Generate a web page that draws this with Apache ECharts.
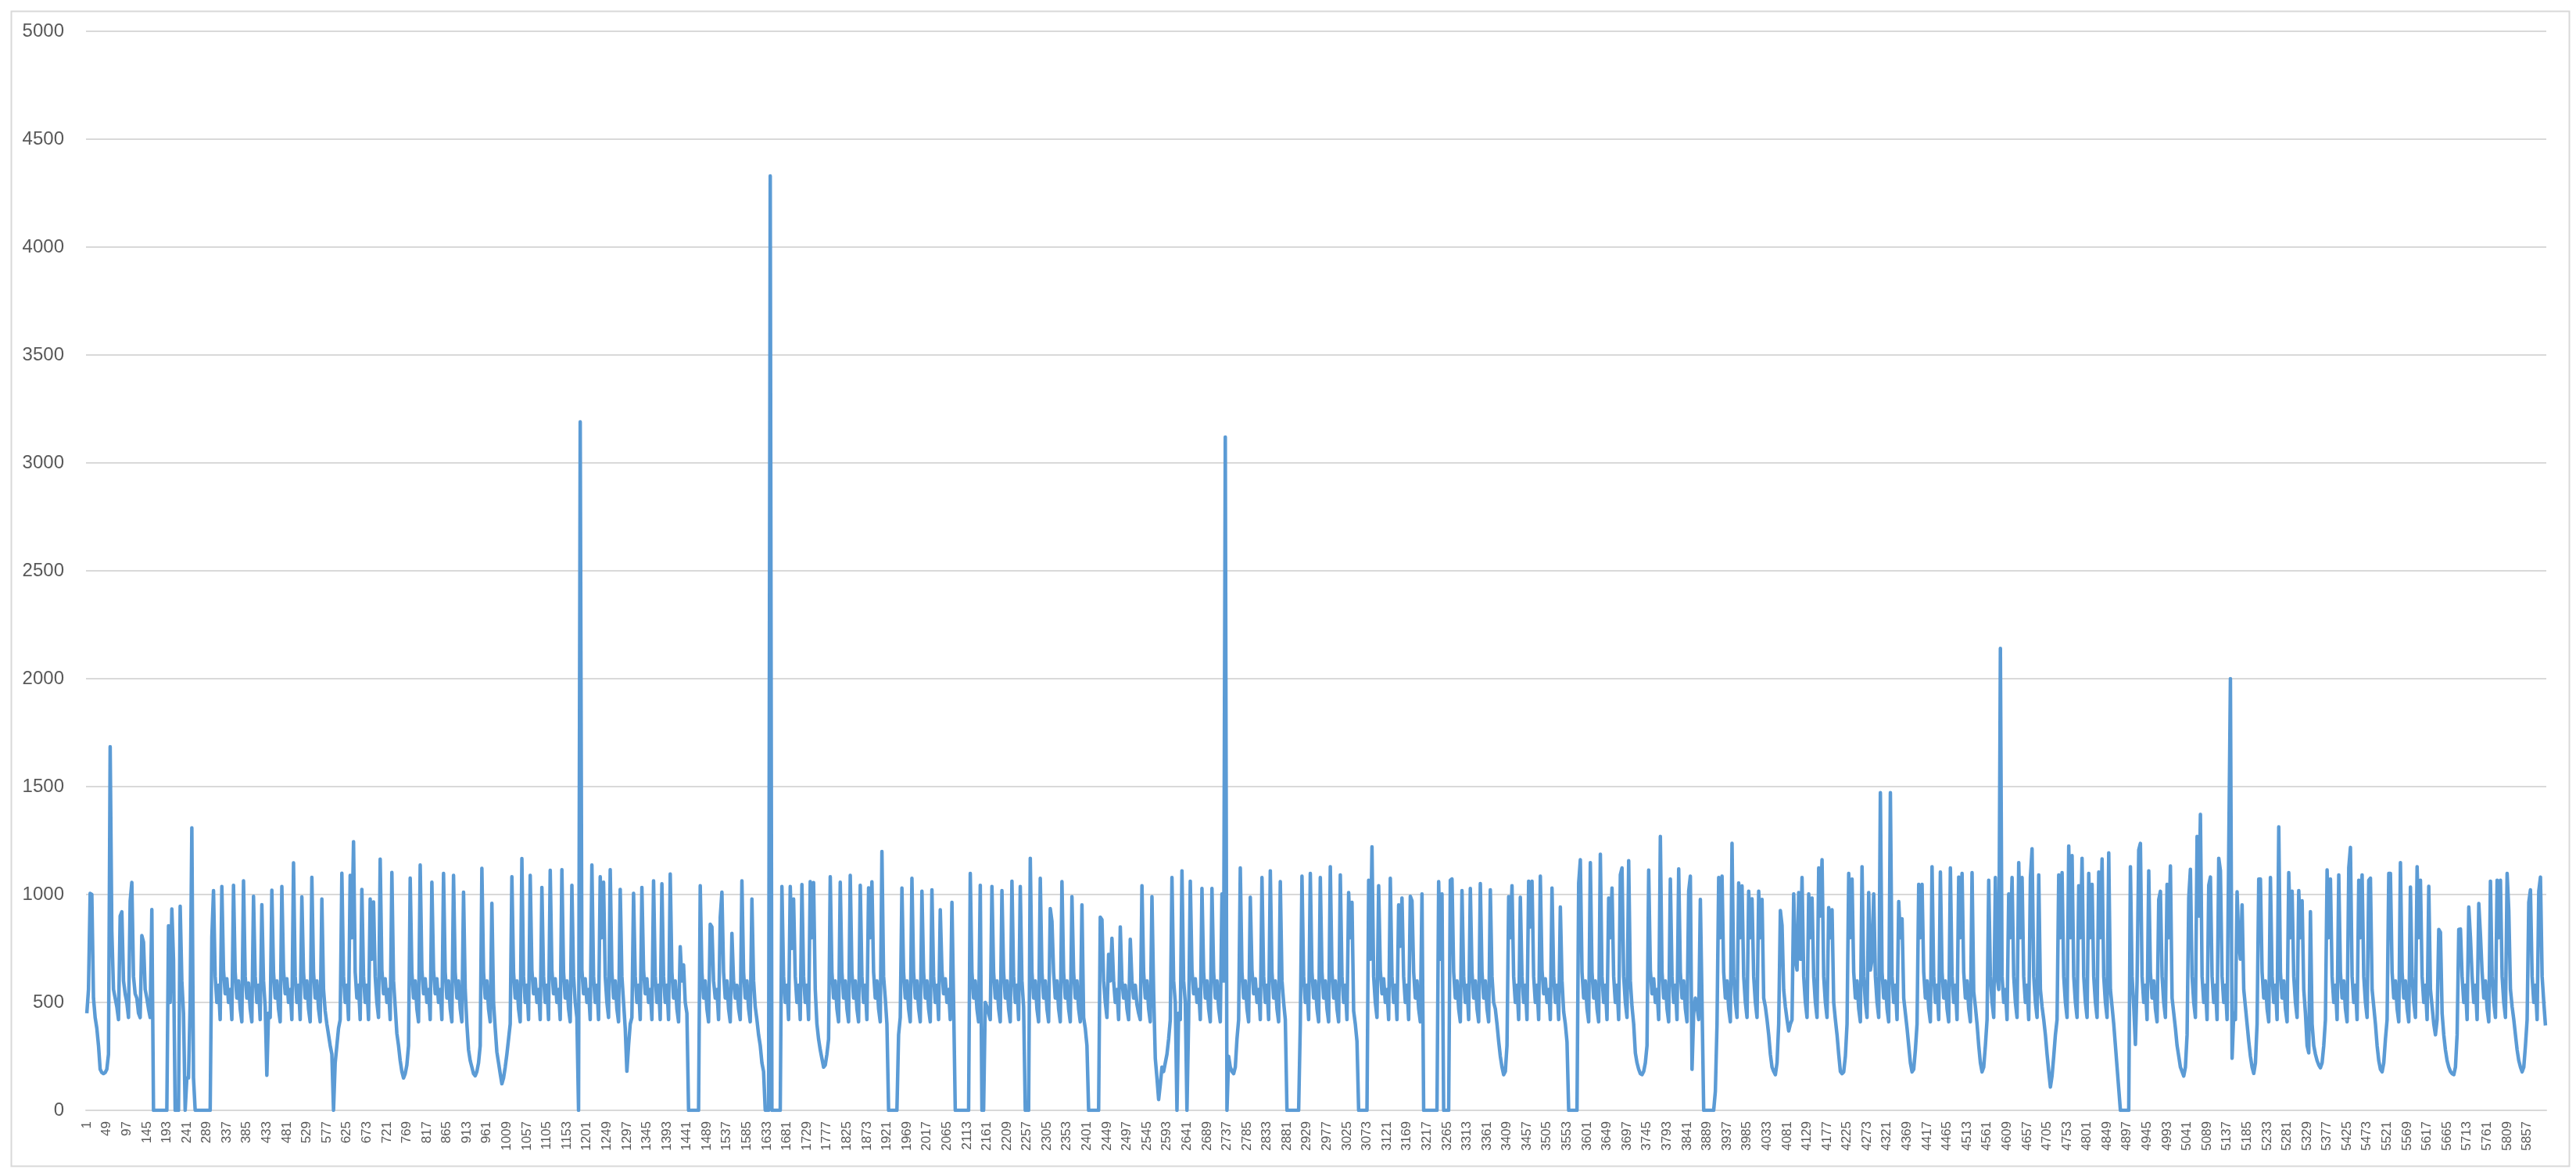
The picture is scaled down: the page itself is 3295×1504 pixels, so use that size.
<!DOCTYPE html>
<html>
<head>
<meta charset="utf-8">
<title>load</title>
<script src="https://cdn.jsdelivr.net/npm/echarts@6.0.0/dist/echarts.min.js"></script>
<style>
  html, body { margin: 0; padding: 0; background: #fff; }
  #main { width: 3295px; height: 1504px; }
</style>
</head>
<body>
<div id="main"></div>
<script>
// readings taken every 4th point (1, 5, 9 ...), so every 12th sample is a labelled tick
var loadA = [
  450,560,1005,1000,520,430,380,300,190,175,170,175,190,260,
  1685,830,560,520,480,420,
  900,920,600,540,500,430,
  970,1056,620,540,520,450,430,
  810,780,560,520,470,430,
  930,
  0,0,0,0,0,0,0,0,0,
  855,500,933,700,
  0,0,0,
  946,600,450,
  0,
  150,150,500,1309,150,
  0,0,0,0,0,0,0,0,0,0,
  800,
  1018,620,500,580,420,
  1037,650,540,610,500,560,420,
  1043,640,520,600,470,410,
  1063,620,520,590,470,410,
  992,620,500,580,420,
  953,600,480,162,450,430,
  1020,640,520,600,470,410,
  1037,650,540,610,500,560,420,
  1147,620,500,580,420,
  989,640,520,600,470,410,
  1080,640,520,600,470,410,
  979,
  560,460,400,350,300,260,0,220,300,380,420,
  1099,620,500,580,420,
  1089,800,1245,640,520,580,420,
  1024,620,500,580,420,
  979,700,966,620,500,430,
  1164,650,540,610,500,560,420,
  1102,
  600,480,356,300,230,180,150,170,210,300,
  1076,640,520,600,470,410,
  1137,650,540,610,500,560,420,
  1057,650,540,610,500,560,420,
  1098,640,520,600,470,410,
  1089,640,520,600,470,410,
  1011,
  560,400,280,230,200,170,160,180,220,300,
  1121,640,520,600,470,410,
  959,
  500,380,270,220,170,123,150,200,260,330,400,
  1082,640,520,600,470,410,
  1167,620,500,580,420,
  1089,650,540,610,500,560,420,
  1033,620,500,580,420,
  1112,650,540,610,500,560,420,
  1115,640,520,600,470,410,
  1043,620,500,430,
  0,3190,
  650,540,610,500,560,420,
  1137,620,500,580,420,
  1082,800,1057,620,500,430,
  1115,640,520,600,470,410,
  1024,620,500,380,181,300,400,430,
  1005,620,500,580,420,
  1033,650,540,610,500,560,420,
  1063,620,500,580,420,
  1050,620,500,580,420,
  1095,640,520,600,470,410,
  758,600,674,500,450,
  0,0,0,0,0,0,0,
  1041,640,520,600,470,410,
  862,850,600,520,560,420,
  894,1011,640,520,600,470,410,
  820,600,520,580,470,420,
  1063,640,520,600,470,410,
  979,600,480,420,350,300,220,180,
  0,0,0,4330,0,0,0,0,0,0,
  1037,620,500,580,420,
  1037,750,979,620,500,580,420,
  1046,620,500,580,420,
  1060,800,1055,
  560,400,330,280,240,200,210,260,330,
  1082,640,520,600,470,410,
  1057,640,520,600,470,410,
  1089,640,520,600,470,410,
  1043,620,500,580,420,
  1031,800,1059,640,520,600,470,410,
  1199,620,520,400,
  0,0,0,0,0,0,
  350,430,
  1030,640,520,600,470,410,
  1075,640,520,600,470
];

var loadB = [
  410,
  1015,640,520,600,470,410,
  1022,620,500,580,420,
  929,650,540,610,500,560,420,
  964,500,
  0,0,0,0,0,0,0,0,0,
  1098,640,520,600,470,410,
  1043,
  0,0,
  500,480,450,420,
  1037,640,520,600,470,410,
  1018,640,520,600,470,410,
  1062,620,500,580,420,
  1037,600,480,
  0,0,0,
  1168,640,520,600,470,410,
  1075,640,520,600,470,410,
  935,876,640,520,600,470,410,
  1060,640,520,600,470,410,
  990,640,520,600,470,410,
  952,430,380,300,
  0,0,0,0,0,0,0,
  895,883,600,500,430,
  723,600,797,600,500,560,420,
  850,600,520,580,470,420,
  793,600,520,580,490,450,420,
  1041,640,520,600,470,410,
  990,
  550,240,150,50,120,200,180,220,260,330,420,
  1079,600,500,0,450,420,
  1110,600,500,0,420,
  1062,650,540,610,500,560,420,
  1028,640,520,600,470,410,
  1028,640,520,600,470,410,
  1003,600,3120,0,
  250,200,180,170,200,330,420,
  1123,640,520,600,470,410,
  987,650,540,610,500,560,420,
  1079,620,500,580,420,
  1110,640,520,600,470,410,
  1060,600,500,420,
  0,0,0,0,0,0,0,0,
  400,
  1085,620,500,580,420,
  1098,640,520,600,470,410,
  1079,640,520,600,470,410,
  1129,640,520,600,470,410,
  1091,620,500,580,420,
  1009,800,964,460,400,320,
  0,0,0,0,0,0,
  1066,700,1221,620,500,430,
  1041,650,540,610,500,560,420,
  1075,620,500,580,420,
  952,760,984,620,500,580,420,
  992,971,640,520,600,470,410,
  1003,
  0,0,0,0,0,0,0,0,0,
  1060,700,1003,
  0,0,0,0,
  1066,1072,640,520,600,470,410,
  1018,620,500,580,420,
  1028,640,520,600,470,410,
  1051,640,520,600,470,410,
  1022,
  620,500,470,400,320,250,200,165,180,300,
  990,800,1041,620,500,580,420,
  987,620,500,580,420,
  1062,850,1062,620,500,580,420,
  1085,650,540,610,500,560,420,
  1030,620,500,580,420,
  942,600,457,400,317,
  0,0,0,0,0,0,
  1053,1161,640,520,600,470,410,
  1148,640,520,600,470,410,
  1187,620,500,580,420,
  984,800,1030,620,500,580,420,
  1091,1123,620,500,430,
  1157,
  600,480,400,266,220,190,170,165,180,220,300,
  1113,650,540,610,500,560,420,
  1269,640,520,600,470,410,
  1072,620,500,580,420,
  1119,640,520,600,470,410,
  1015,1085,190,450,520,480,420,
  977,500,
  0,0,0,0,0,0,0,
  89,400,
  1079,800,1085,640,520,600,470,410,
  1237,620,500,430,
  1053,800,1040,620,500,430,
  1015,800,980
];

var loadC = [
  620,500,430,
  1015,800,977,
  520,480,420,350,260,200,180,165,220,400,
  926,857,558,480,420,368,400,420,
  1003,700,650,1009,700,1079,620,500,430,
  1003,800,984,620,500,430,
  1123,900,1161,620,500,430,
  939,800,929,
  500,420,350,260,180,170,178,250,400,
  1098,800,1072,640,520,600,470,410,
  1129,620,500,430,
  1009,650,700,1003,620,500,430,
  1472,640,520,600,470,410,
  1472,620,500,580,420,
  967,800,888,
  520,450,380,300,220,178,190,280,400,
  1047,800,1047,640,520,600,470,410,
  1129,620,500,580,420,
  1104,640,520,600,470,410,
  1123,620,500,580,420,
  1081,800,1098,640,520,600,470,410,
  1101,
  550,480,400,300,220,178,200,300,420,
  1066,620,500,430,
  1079,620,560,2140,620,500,560,420,
  1003,800,1079,620,500,430,
  1148,800,1079,620,500,580,420,
  1079,1212,620,500,430,
  1091,
  560,480,420,350,260,180,108,160,250,350,420,
  1091,800,1101,620,500,430,
  1225,800,1180,620,500,430,
  1041,800,1168,620,500,430,
  1098,800,1047,620,500,430,
  1104,800,1165,620,500,430,
  1193,
  560,480,400,300,200,100,
  0,0,0,0,0,0,
  1129,620,480,305,600,1206,1237,620,500,580,420,
  1110,640,520,600,470,410,
  977,1015,620,500,430,
  1047,800,1132,
  520,450,380,300,250,200,180,159,200,350,
  984,1117,620,500,430,
  1269,900,1371,620,500,580,420,
  1043,1081,620,500,580,420,
  1168,1110,620,500,580,420,
  1212,2000,241,450,420,
  1013,780,700,952,
  560,480,400,320,250,200,171,220,400,
  1072,1072,640,520,600,470,410,
  1079,620,500,580,420,
  1313,640,520,600,470,410,
  1101,800,1015,620,500,430,
  1018,800,971,
  560,450,300,266,920,400,300,260,230,210,197,220,300,420,
  1114,800,1072,620,500,580,420,
  1091,640,520,600,470,410,
  1123,1218,620,500,580,420,
  1066,800,1091,620,500,430,
  1066,1076,
  560,480,400,300,230,190,178,220,330,420,
  1098,1098,640,520,600,470,410,
  1148,640,520,600,470,410,
  1034,620,500,430,
  1129,800,1066,620,500,580,420,
  1038,
  560,480,400,350,420,
  838,825,
  450,350,280,230,200,180,170,165,200,350,
  838,840,620,500,580,420,
  942,800,620,500,580,420,
  958,812,640,520,600,470,410,
  1062,620,500,430,
  1066,800,1066,620,500,430,
  1098,926,
  560,480,420,350,280,230,200,178,200,300,420,
  964,1022,620,500,580,420,
  1015,1081,620,500,393
];

var yTicks = [0, 500, 1000, 1500, 2000, 2500, 3000, 3500, 4000, 4500, 5000];

var values = loadA.concat(loadB, loadC);
var categories = values.map(function (v, i) { return String(1 + i * 4); });

var chart = echarts.init(document.getElementById('main'), null, { renderer: 'canvas' });

var option = {
  backgroundColor: '#ffffff',
  animation: false,
  textStyle: { fontFamily: 'Liberation Sans' },
  graphic: [{
    type: 'rect',
    left: 12,
    top: 12,
    shape: { width: 3272, height: 1477 },
    style: { fill: 'none', stroke: '#d9d9d9', lineWidth: 2 }
  }],
  grid: {
    left: 110,
    right: 38,
    top: 40,
    bottom: 84,
    containLabel: false
  },
  xAxis: {
    type: 'category',
    data: categories,
    boundaryGap: true,
    axisLine: { lineStyle: { color: '#d9d9d9', width: 2 } },
    axisTick: { show: false },
    axisLabel: {
      interval: 11,
      rotate: 90,
      color: '#595959',
      fontSize: 17,
      margin: 14
    },
    splitLine: { show: false }
  },
  yAxis: {
    type: 'value',
    min: yTicks[0],
    max: yTicks[yTicks.length - 1],
    interval: yTicks[1] - yTicks[0],
    axisLine: { show: false },
    axisTick: { show: false },
    axisLabel: {
      color: '#595959',
      fontSize: 24,
      margin: 28,
      formatter: function (v) { return String(v); }
    },
    splitLine: { lineStyle: { color: '#d9d9d9', width: 2 } }
  },
  series: [{
    type: 'line',
    data: values,
    showSymbol: false,
    symbol: 'none',
    sampling: null,
    lineStyle: { color: '#5b9bd5', width: 4.5, join: 'round' },
    itemStyle: { color: '#5b9bd5' }
  }]
};

chart.setOption(option);
</script>
</body>
</html>
